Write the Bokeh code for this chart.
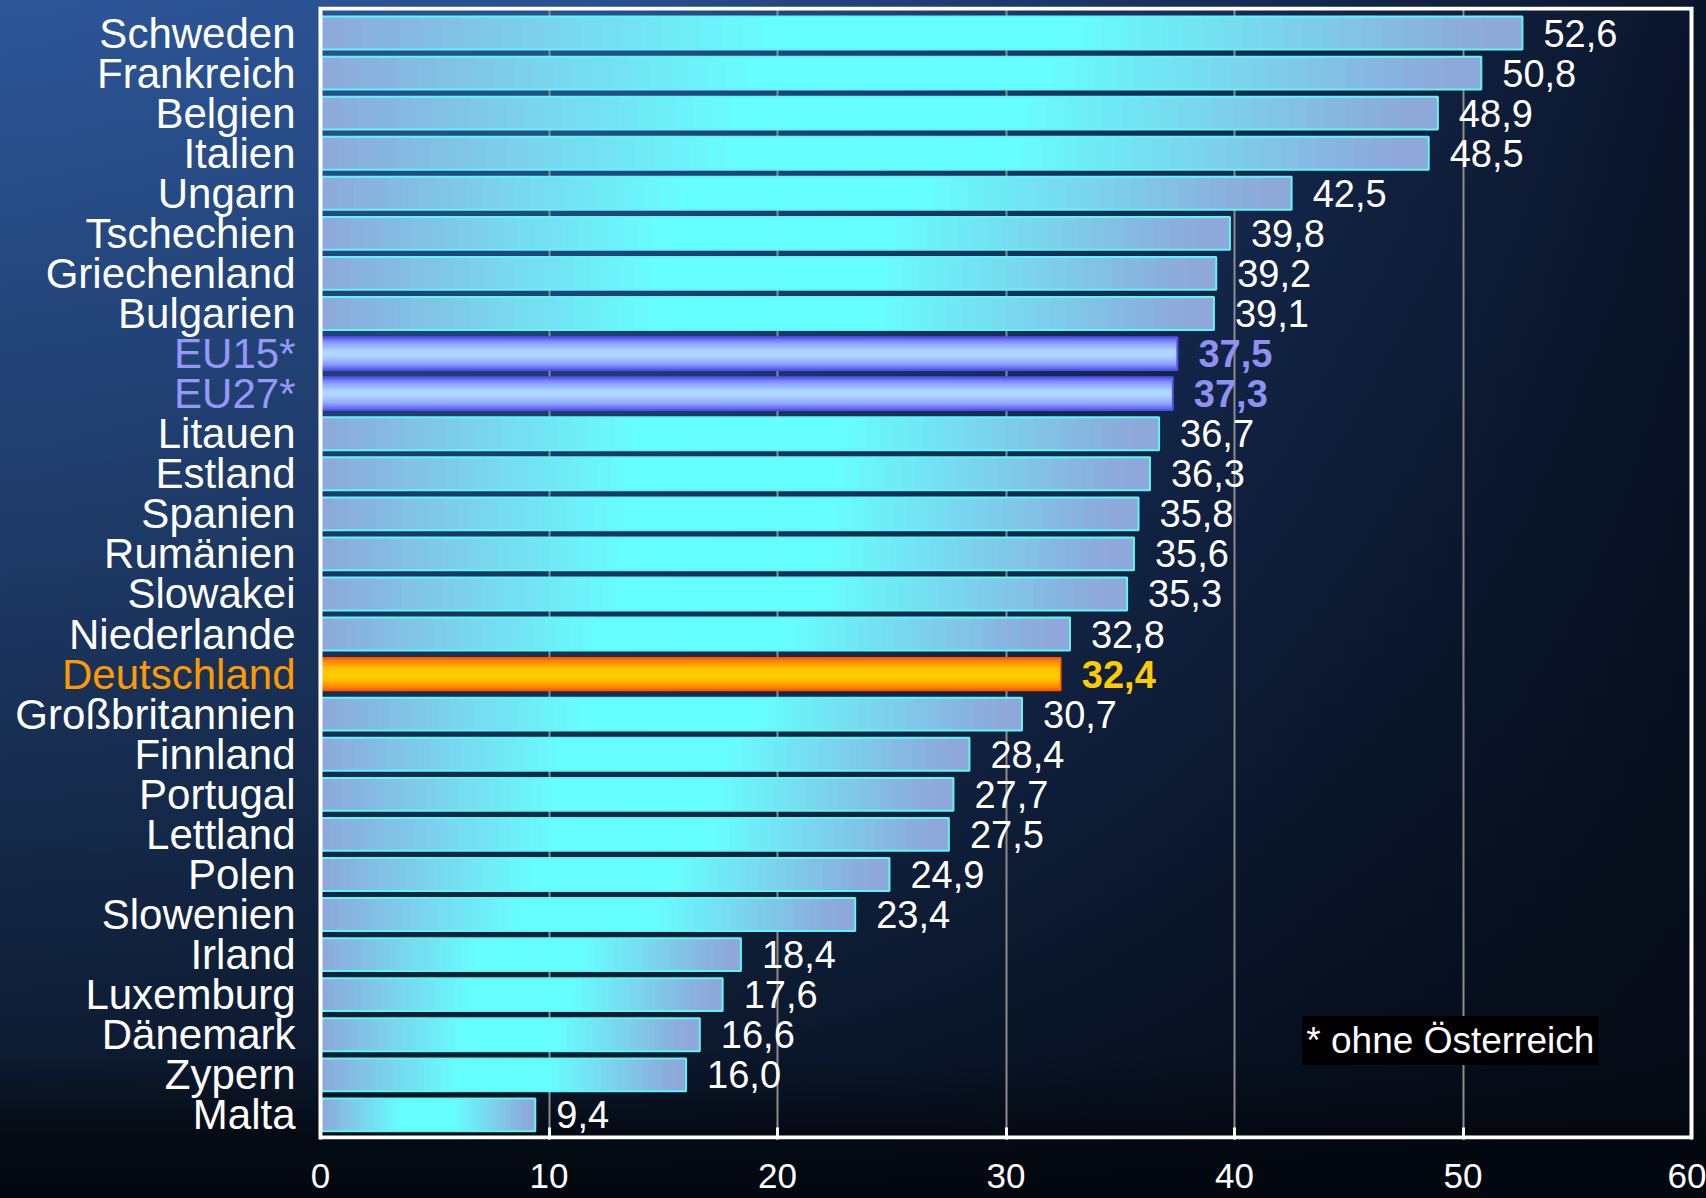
import numpy as np
from bokeh.plotting import figure
from bokeh.models import ColumnDataSource, Range1d, Label, FixedTicker
from bokeh.embed import file_html
from bokeh.resources import INLINE
from bokeh.core.properties import value

# ---------------- data ----------------
categories = ["Schweden", "Frankreich", "Belgien", "Italien", "Ungarn", "Tschechien",
              "Griechenland", "Bulgarien", "EU15*", "EU27*", "Litauen", "Estland",
              "Spanien", "Rumänien", "Slowakei", "Niederlande", "Deutschland",
              "Großbritannien", "Finnland", "Portugal", "Lettland", "Polen",
              "Slowenien", "Irland", "Luxemburg", "Dänemark", "Zypern", "Malta"]
values = [52.6, 50.8, 48.9, 48.5, 42.5, 39.8, 39.2, 39.1, 37.5, 37.3, 36.7, 36.3,
          35.8, 35.6, 35.3, 32.8, 32.4, 30.7, 28.4, 27.7, 27.5, 24.9, 23.4, 18.4,
          17.6, 16.6, 16.0, 9.4]
eu_aggregates = ["EU15*", "EU27*"]
home_country = "Deutschland"
x_ticks = [0, 10, 20, 30, 40, 50, 60]
grid_ticks = [10, 20, 30, 40, 50]
footnote = "* ohne Österreich"

FONT = "Liberation Sans"
n = len(categories)
ys = list(range(n))
BAR_H = 0.82

# ---------------- layout (pixels) ----------------
W, H = 1706, 1198
X0_PX, X60_PX = 320.0, 1691.0          # where 0 and 60 sit on the canvas
ROW0_PX, PITCH = 32.5, 40.07           # centre of first row, row pitch
FR_TOP_PX, FR_BOT_PX = 6, 1139         # outer edges of the white frame line
sx = (X60_PX - X0_PX) / 60.0


def ydat(px):
    return (px - ROW0_PX) / PITCH


x_min = -X0_PX / sx
x_max = 60 + (W - X60_PX) / sx


def hex2rgb(h):
    h = h.lstrip("#")
    return tuple(int(h[i:i + 2], 16) for i in (0, 2, 4))


def rgb2hex(c):
    return "#%02x%02x%02x" % tuple(int(round(v)) for v in c)


def interp(stops, t):
    for (t0, c0), (t1, c1) in zip(stops[:-1], stops[1:]):
        if t <= t1:
            f = 0 if t1 == t0 else (t - t0) / (t1 - t0)
            return rgb2hex([a + (b - a) * f for a, b in zip(c0, c1)])
    return rgb2hex(stops[-1][1])


PERI = hex2rgb("#8ea8da")
CYAN = hex2rgb("#66ffff")
horiz_stops = [(0.0, PERI), (0.38, CYAN), (0.62, CYAN), (0.97, PERI), (1.0, PERI)]

eu_stops = [(0.0, hex2rgb("#b2daff")), (0.22, hex2rgb("#aad0ff")),
            (0.65, hex2rgb("#8a9cfc")), (1.0, hex2rgb("#5757f2"))]
de_stops = [(0.0, hex2rgb("#ffcc00")), (0.3, hex2rgb("#ffc400")),
            (0.7, hex2rgb("#ff9400")), (1.0, hex2rgb("#ff5a00"))]

# ---------------- figure ----------------
p = figure(width=W, height=H, output_backend="svg", toolbar_location=None,
           y_axis_location=None,
           x_range=Range1d(x_min, x_max),
           y_range=Range1d(ydat(FR_BOT_PX), ydat(FR_TOP_PX)),
           min_border=0, min_border_left=0, min_border_right=0,
           min_border_top=FR_TOP_PX, min_border_bottom=H - FR_BOT_PX)
p.background_fill_color = None
p.border_fill_color = None
p.outline_line_color = None
p.styles = {"background": (
    "linear-gradient(to bottom, rgba(3,8,15,0) 0%, rgba(3,8,15,0.4) 50%, "
    "rgba(3,8,15,0.75) 88%, rgba(3,8,15,0.97) 95%, #030810 100%), "
    "linear-gradient(to right, #2d5698 0%, #28508f 35%, #1f3d73 55%, "
    "#13264a 78%, #0a152a 100%)")}

p.xgrid.ticker = FixedTicker(ticks=grid_ticks)
p.xgrid.grid_line_color = "#8c8c8c"
p.xgrid.grid_line_width = 2
p.ygrid.visible = False

# ---------------- bars ----------------
N = 60
sl = dict(left=[], right=[], bottom=[], top=[], color=[])
out_norm = dict(left=[], right=[], bottom=[], top=[])
vgrad = dict(left=[], right=[], bottom=[], top=[], color=[])
out_eu = dict(left=[], right=[], bottom=[], top=[])
out_de = dict(left=[], right=[], bottom=[], top=[])
for y, cat, v in zip(ys, categories, values):
    b, t = y - BAR_H / 2, y + BAR_H / 2
    if cat in eu_aggregates or cat == home_country:
        stops = eu_stops if cat in eu_aggregates else de_stops
        M = 24
        for k in range(M):
            bb = b + BAR_H * k / M
            tt = min(t, b + BAR_H * (k + 1.6) / M)
            c = abs((k + 0.5) / M - 0.5) * 2
            vgrad["left"].append(0)
            vgrad["right"].append(v)
            vgrad["bottom"].append(bb)
            vgrad["top"].append(tt)
            vgrad["color"].append(interp(stops, c))
        tgt = out_eu if cat in eu_aggregates else out_de
        tgt["left"].append(0); tgt["right"].append(v)
        tgt["bottom"].append(b); tgt["top"].append(t)
    else:
        for k in range(N):
            sl["left"].append(v * k / N)
            sl["right"].append(min(v, v * (k + 1.6) / N))
            sl["bottom"].append(b)
            sl["top"].append(t)
            sl["color"].append(interp(horiz_stops, (k + 0.5) / N))
        out_norm["left"].append(0); out_norm["right"].append(v)
        out_norm["bottom"].append(b); out_norm["top"].append(t)

p.quad(left="left", right="right", bottom="bottom", top="top", fill_color="color",
       line_color=None, source=ColumnDataSource(sl))
p.quad(left="left", right="right", bottom="bottom", top="top", fill_color="color",
       line_color=None, source=ColumnDataSource(vgrad))
p.quad(left="left", right="right", bottom="bottom", top="top", fill_color=None,
       line_color="#5ef5f5", line_width=2, source=ColumnDataSource(out_norm))
p.quad(left="left", right="right", bottom="bottom", top="top", fill_color=None,
       line_color="#5252f0", line_width=2, source=ColumnDataSource(out_eu))
p.quad(left="left", right="right", bottom="bottom", top="top", fill_color=None,
       line_color="#ff5500", line_width=1.5, source=ColumnDataSource(out_de))

# white plot frame from 0 to 60
p.quad(left=[x_ticks[0]], right=[x_ticks[-1]], top=[ydat(FR_TOP_PX + 2)],
       bottom=[ydat(FR_BOT_PX - 2)], fill_color=None, line_color="white",
       line_width=4, line_join="miter")

# ---------------- value labels ----------------
lab_col, lab_style, cat_col = [], [], []
for cat in categories:
    if cat in eu_aggregates:
        lab_col.append("#9090f2"); lab_style.append("bold"); cat_col.append("#9797f7")
    elif cat == home_country:
        lab_col.append("#ffcc00"); lab_style.append("bold"); cat_col.append("#ff9900")
    else:
        lab_col.append("white"); lab_style.append("normal"); cat_col.append("white")
vsrc = ColumnDataSource(dict(x=values, y=ys,
                             text=[("%.1f" % v).replace(".", ",") for v in values],
                             color=lab_col, style=lab_style))
p.text(x="x", y="y", text="text", source=vsrc, x_offset=21, text_align="left",
       text_baseline="middle", text_font=value(FONT), text_font_size="38px",
       text_color="color", text_font_style="style")

# ---------------- category labels ----------------
csrc = ColumnDataSource(dict(x=[0] * n, y=ys, text=categories, color=cat_col))
p.text(x="x", y="y", text="text", source=csrc, x_offset=-25, text_align="right",
       text_baseline="middle", text_font=value(FONT), text_font_size="42px",
       text_color="color")

# ---------------- x axis ----------------
xa = p.xaxis[0]
xa.ticker = FixedTicker(ticks=x_ticks)
xa.axis_line_color = None
xa.major_tick_in = 12
xa.major_tick_out = 0
xa.major_tick_line_color = "white"
xa.major_tick_line_width = 3
xa.minor_tick_line_color = None
xa.major_label_text_color = "white"
xa.major_label_text_font = FONT
xa.major_label_text_font_size = "35px"
xa.major_label_standoff = 24

p.add_layout(Label(x=42.97, y=ydat(1040), text=footnote, text_align="left",
                   text_baseline="middle", text_font=FONT, text_font_size="37px",
                   text_color="white", background_fill_color="black",
                   background_fill_alpha=1, padding=4))

open("out.html", "w").write(file_html(p, INLINE))
